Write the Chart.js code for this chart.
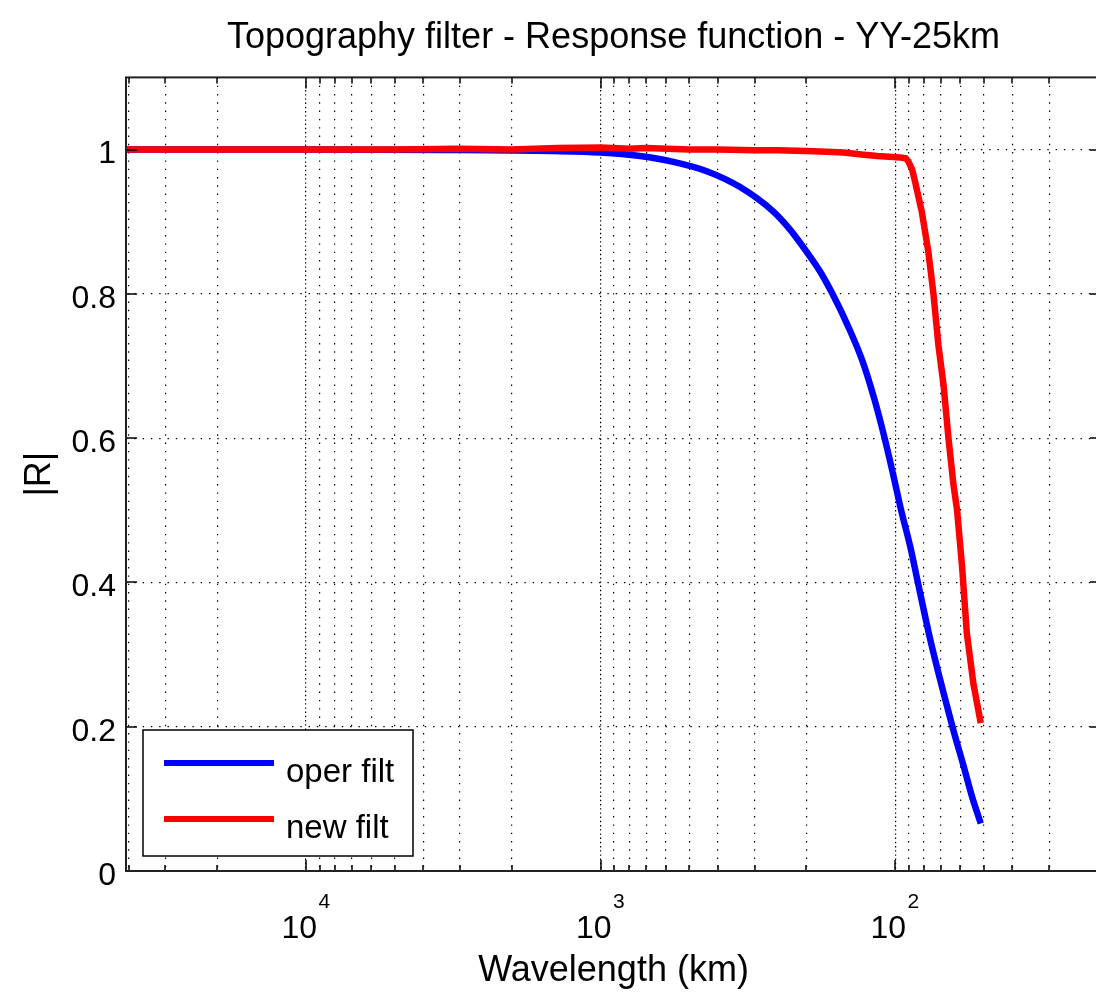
<!DOCTYPE html>
<html><head><meta charset="utf-8">
<script src="https://cdn.jsdelivr.net/npm/chart.js@4.4.1/dist/chart.umd.min.js"></script>
<style>html,body{margin:0;padding:0;background:#fff;overflow:hidden;width:1096px;height:1001px}canvas{display:block}</style>
</head><body>
<canvas id="c" width="1110" height="1001" style="width:1110px;height:1001px"></canvas>
<script>
const titleText = 'Topography filter - Response function - YY-25km';
const xAxisLabel = 'Wavelength (km)';
const yAxisLabel = '|R|';
const seriesNames = ['oper filt', 'new filt'];
const seriesColors = ['#0000ff', '#ff0000'];

// oper filt (blue)
const operWavelength = [40850, 10000, 3500, 1450, 1000, 734, 566, 436, 336, 259, 227.3, 199.5, 179.8, 163.7, 144.4, 129.4, 117.8, 109.0, 101.6, 95.4, 88.9, 84.2, 76.1, 68.6, 63.4, 58.6, 54.9, 51.2];
const operResponse   = [1.0, 1.0, 0.9995, 0.998, 0.996, 0.991, 0.983, 0.970, 0.948, 0.914, 0.889, 0.858, 0.831, 0.801, 0.755, 0.708, 0.655, 0.603, 0.550, 0.500, 0.450, 0.405, 0.322, 0.248, 0.195, 0.146, 0.104, 0.066];

// new filt (red)
const newWavelength = [40850, 20000, 10000, 5000, 3000, 2000, 1400, 1000, 800, 700, 500, 400, 300, 250, 200, 170, 150, 130, 115, 105, 96, 92, 90.3, 87.5, 85.5, 81.2, 77.1, 74.1, 71.3, 68.5, 65.9, 63.4, 61.6, 59.2, 57.1, 54.2, 51.2];
const newResponse   = [1.0, 1.0, 1.0, 1.0, 1.001, 1.0, 1.002, 1.003, 1.001, 1.002, 1.0, 1.0, 0.999, 0.999, 0.998, 0.997, 0.996, 0.993, 0.991, 0.990, 0.989, 0.988, 0.984, 0.972, 0.955, 0.914, 0.858, 0.800, 0.729, 0.674, 0.600, 0.536, 0.500, 0.420, 0.330, 0.259, 0.205];

// axes
const xMin = 20, xMax = 40850;
const xGridValues = [20,30,40,50,60,70,80,90,100,200,300,400,500,600,700,800,900,1000,2000,3000,4000,5000,6000,7000,8000,9000,10000,20000,30000,40000];
const xDecadeValues = [10000, 1000, 100];
const xDecadeBase = ['10', '10', '10'];
const xDecadeExponents = ['4', '3', '2'];
const yMin = 0, yMax = 1.1;
const yTickValues = [0, 0.2, 0.4, 0.6, 0.8, 1];
const yTickLabels = ['0', '0.2', '0.4', '0.6', '0.8', '1'];

const FONT = '"Liberation Sans", Arial, Helvetica, sans-serif';

const framePlugin = {
  id: 'frameAndLabels',
  afterDraw(chart) {
    const {ctx, chartArea: a, scales: {x, y}} = chart;
    ctx.save();
    const seg = (x1, y1, x2, y2) => { ctx.beginPath(); ctx.moveTo(x1, y1); ctx.lineTo(x2, y2); ctx.stroke(); };
    // inward ticks
    ctx.strokeStyle = '#000';
    ctx.lineWidth = 1.5;
    xGridValues.forEach(v => {
      const px = Math.round(x.getPixelForValue(v));
      const len = xDecadeValues.includes(v) ? 11 : 6;
      seg(px, a.bottom, px, a.bottom - len);
      seg(px, a.top, px, a.top + len);
    });
    yTickValues.forEach(v => {
      const py = Math.round(y.getPixelForValue(v));
      seg(a.left, py, a.left + 11, py);
      seg(a.right, py, a.right - 11, py);
    });
    // frame
    ctx.lineWidth = 2;
    ctx.strokeStyle = '#222';
    ctx.strokeRect(a.left, a.top, a.right - a.left, a.bottom - a.top);
    // x tick labels with superscript exponents
    ctx.fillStyle = '#000';
    xDecadeValues.forEach((v, i) => {
      const px = x.getPixelForValue(v);
      ctx.font = '32px ' + FONT;
      ctx.textAlign = 'right';
      ctx.textBaseline = 'alphabetic';
      ctx.fillText(xDecadeBase[i], px + 11, a.bottom + 67);
      ctx.font = '21px ' + FONT;
      ctx.textAlign = 'left';
      ctx.fillText(xDecadeExponents[i], px + 12.5, a.bottom + 37);
    });
    // legend
    const lx = a.left + 17, ly = a.bottom - 141, lw = 270, lh = 126;
    ctx.fillStyle = '#fff';
    ctx.fillRect(lx, ly, lw, lh);
    ctx.lineWidth = 1.5;
    ctx.strokeStyle = '#000';
    ctx.strokeRect(lx, ly, lw, lh);
    const rows = [ly + 33, ly + 89];
    chart.data.datasets.forEach((ds, i) => {
      ctx.strokeStyle = ds.borderColor;
      ctx.lineWidth = 6;
      seg(lx + 21, rows[i], lx + 131, rows[i]);
      ctx.fillStyle = '#000';
      ctx.font = '33px ' + FONT;
      ctx.textAlign = 'left';
      ctx.textBaseline = 'alphabetic';
      ctx.fillText(ds.label, lx + 143, rows[i] + 19);
    });
    ctx.restore();
  }
};

new Chart(document.getElementById('c'), {
  type: 'line',
  data: {
    datasets: [
      {
        label: seriesNames[0],
        data: operWavelength.map((w, i) => ({x: w, y: operResponse[i]})),
        borderColor: seriesColors[0], backgroundColor: seriesColors[0],
        borderWidth: 6.5, pointRadius: 0, cubicInterpolationMode: 'monotone', fill: false, order: 1,
        borderJoinStyle: 'round', borderCapStyle: 'butt'
      },
      {
        label: seriesNames[1],
        data: newWavelength.map((w, i) => ({x: w, y: newResponse[i]})),
        borderColor: seriesColors[1], backgroundColor: seriesColors[1],
        borderWidth: 6.5, pointRadius: 0, tension: 0, fill: false, order: 0,
        borderJoinStyle: 'round', borderCapStyle: 'butt'
      }
    ]
  },
  options: {
    responsive: false,
    animation: false,
    devicePixelRatio: 1,
    layout: {padding: {left: 0, right: 9, top: 0, bottom: 0}},
    plugins: {
      legend: {display: false},
      tooltip: {enabled: false},
      title: {
        display: true, text: titleText, fullSize: false, color: '#000',
        font: {family: FONT, size: 36, weight: 'normal'},
        padding: {top: 16, bottom: 18.2}
      }
    },
    scales: {
      x: {
        type: 'logarithmic', reverse: true, min: xMin, max: xMax,
        afterBuildTicks: s => { s.ticks = xGridValues.map(v => ({value: v})); },
        afterFit: s => { s.height = 130; },
        ticks: {display: false},
        grid: {color: '#000', lineWidth: 1.2, drawTicks: false},
        border: {display: false, dash: c => (c.tick && xDecadeValues.includes(c.tick.value)) ? [1.4, 2.8] : [1.4, 6.9]},
        title: {display: true, text: xAxisLabel, color: '#000', font: {family: FONT, size: 36}, padding: {top: 0, bottom: 8}}
      },
      y: {
        type: 'linear', min: yMin, max: yMax,
        afterBuildTicks: s => { s.ticks = yTickValues.map(v => ({value: v})); },
        afterFit: s => { s.width = 126; },
        ticks: {color: '#000', font: {family: FONT, size: 32}, padding: 10, labelOffset: 5,
                callback: (v, i) => yTickLabels[i]},
        grid: {color: '#000', lineWidth: 1.2, drawTicks: false},
        border: {display: false, dash: [1.4, 6.9]},
        title: {display: true, text: yAxisLabel, color: '#000', font: {family: FONT, size: 36}, padding: {top: 18, bottom: 0}}
      }
    }
  },
  plugins: [framePlugin]
});
</script>
</body></html>
